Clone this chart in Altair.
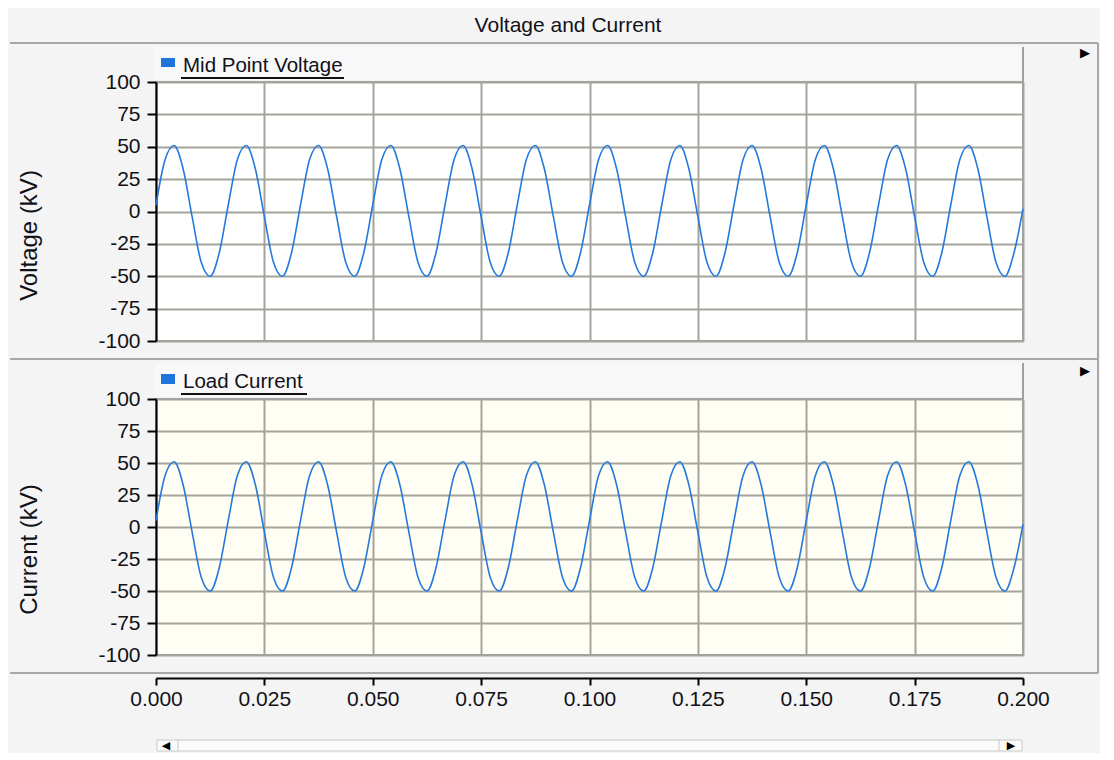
import altair as alt
import pandas as pd

FONT = "Liberation Sans"
TEXT = "#111118"
BG = "#F4F4F4"
GRID = "#A4A49C"
WAVE = "#2479DC"

chart_title = "Voltage and Current"
panel_names = ["Mid Point Voltage", "Load Current"]
axis_titles = ["Voltage (kV)", "Current (kV)"]
x_tick_values = [0.0, 0.025, 0.05, 0.075, 0.1, 0.125, 0.15, 0.175, 0.2]
y_tick_values = [-100, -75, -50, -25, 0, 25, 50, 75, 100]

# samples, one every 1/8 of a 60 Hz cycle
SAMPLE_STEP = 0.2 / 96
mid_point_voltage = [
    5, 40, 51, 33, -4, -39, -50, -32,
    5, 40, 51, 33, -4, -39, -50, -32,
    5, 40, 51, 33, -4, -39, -50, -32,
    5, 40, 51, 33, -4, -39, -50, -32,
    5, 40, 51, 33, -4, -39, -50, -32,
    5, 40, 51, 33, -4, -39, -50, -32,
    5, 40, 51, 33, -4, -39, -50, -32,
    5, 40, 51, 33, -4, -39, -50, -32,
    5, 40, 51, 33, -4, -39, -50, -32,
    5, 40, 51, 33, -4, -39, -50, -32,
    5, 40, 51, 33, -4, -39, -50, -32,
    5, 40, 51, 33, -4, -39, -50, -32,
    2,
]
load_current = [
    5, 40, 51, 33, -4, -39, -50, -32,
    5, 40, 51, 33, -4, -39, -50, -32,
    5, 40, 51, 33, -4, -39, -50, -32,
    5, 40, 51, 33, -4, -39, -50, -32,
    5, 40, 51, 33, -4, -39, -50, -32,
    5, 40, 51, 33, -4, -39, -50, -32,
    5, 40, 51, 33, -4, -39, -50, -32,
    5, 40, 51, 33, -4, -39, -50, -32,
    5, 40, 51, 33, -4, -39, -50, -32,
    5, 40, 51, 33, -4, -39, -50, -32,
    5, 40, 51, 33, -4, -39, -50, -32,
    5, 40, 51, 33, -4, -39, -50, -32,
    2,
]
times = [round(i * SAMPLE_STEP, 6) for i in range(len(mid_point_voltage))]

W = 867
H1 = 259
H2 = 256

one = alt.Data(values=[{"k": 1}])


def d_rect(x, x2, y, y2, fill, stroke=None, sw=1):
    if stroke is None:
        m = alt.Chart(one).mark_rect(fill=fill, strokeWidth=0)
    else:
        m = alt.Chart(one).mark_rect(fill=fill, stroke=stroke, strokeWidth=sw)
    return m.encode(x=alt.value(x), x2=alt.value(x2), y=alt.value(y), y2=alt.value(y2))


def d_rule(x, x2, y, y2, color, width):
    return alt.Chart(one).mark_rule(color=color, strokeWidth=width).encode(
        x=alt.value(x), x2=alt.value(x2), y=alt.value(y), y2=alt.value(y2))


def d_text(txt, x, y, size, align="left", baseline="alphabetic", font=FONT, color=TEXT):
    return alt.Chart(one).mark_text(
        text=txt, font=font, fontSize=size, align=align, baseline=baseline, color=color
    ).encode(x=alt.value(x), y=alt.value(y))


def wave(values, ytitle, title_y, bottom):
    df = pd.DataFrame({"t": times, "v": values})
    if bottom:
        xax = alt.Axis(values=x_tick_values, format=".3f", grid=True, gridColor=GRID, gridWidth=2,
                       title=None, offset=23, domainColor="#000", domainWidth=2,
                       tickColor="#000", tickWidth=2, tickSize=7, labelFont=FONT,
                       labelFontSize=21, labelColor=TEXT, labelPadding=3, labelFlush=False)
    else:
        xax = alt.Axis(values=x_tick_values, grid=True, gridColor=GRID, gridWidth=2, title=None,
                       labels=False, ticks=False, domain=False)
    yax = alt.Axis(values=y_tick_values, grid=True, gridColor=GRID, gridWidth=2,
                   domainColor="#000", domainWidth=2, tickColor="#000", tickWidth=2, tickSize=9,
                   labelFont=FONT, labelFontSize=21, labelColor=TEXT, labelPadding=7,
                   labelExpr="datum.value < 0 ? '-' + abs(datum.value) : '' + datum.value",
                   labelFlush=False, title=ytitle, titleFont=FONT, titleFontSize=24,
                   titleFontWeight="normal", titleColor=TEXT, titleX=-127, titleY=title_y,
                   titleAngle=270, titleAlign="center", titleBaseline="middle")
    return alt.Chart(df).mark_line(color=WAVE, strokeWidth=1.6, interpolate="monotone").encode(
        x=alt.X("t:Q", scale=alt.Scale(domain=[0, 0.2], nice=False, zero=False), axis=xax),
        y=alt.Y("v:Q", scale=alt.Scale(domain=[-100, 100], nice=False), axis=yax),
    )


top = alt.layer(
    d_rect(-146, 942, -73, -39, BG),
    d_rule(-146, 942, -39, -39, "#A8A8A8", 2),
    d_text(chart_title, 412, -56, 21, align="center", baseline="middle"),
    d_rect(-1, 868, -35, -2, "#F8F8F8"),
    d_rule(867, 867, -35, 0, "#A0A0A0", 2),
    d_rect(5, 19, -24, -15, "#1E73DC"),
    d_text(panel_names[0], 27, -10, 20.5),
    d_rule(25, 188, -4, -4, "#111111", 2),
    d_text("▶", 929, -29, 13, align="center", baseline="middle", font="DejaVu Sans", color="#000"),
    d_rule(942, 942, -39, 591, "#A8A8A8", 2),
    wave(mid_point_voltage, axis_titles[0], 153, False),
).properties(width=W, height=H1, view=alt.ViewBackground(fill="#FFFFFF", stroke="#A0A0A0", strokeWidth=2))

bottom = alt.layer(
    d_rule(-146, 942, -40, -40, "#A8A8A8", 2),
    d_rect(-1, 868, -36, -2, "#F8F8F8"),
    d_rule(867, 867, -36, 0, "#A0A0A0", 2),
    d_rect(5, 19, -25, -15, "#1E73DC"),
    d_text(panel_names[1], 27, -11, 20.5),
    d_rule(25, 151, -5, -5, "#111111", 2),
    d_text("▶", 929, -28, 13, align="center", baseline="middle", font="DejaVu Sans", color="#000"),
    d_rule(-146, 942, 274, 274, "#A8A8A8", 2),
    d_rect(1, 866, 341, 352, "#FBFBFB", stroke="#C8C8C8", sw=1),
    d_rule(22, 22, 341, 352, "#C8C8C8", 1),
    d_rule(843, 843, 341, 352, "#C8C8C8", 1),
    d_text("◀", 10, 347, 11, align="center", baseline="middle", font="DejaVu Sans", color="#000"),
    d_text("▶", 855, 347, 11, align="center", baseline="middle", font="DejaVu Sans", color="#000"),
    wave(load_current, axis_titles[1], 150, True),
).properties(width=W, height=H2, view=alt.ViewBackground(fill="#FFFEF4", stroke="#A0A0A0", strokeWidth=2))

chart = alt.vconcat(top, bottom, spacing=58, bounds="flush").properties(
    padding=0, background=BG
).configure(font=FONT)

chart.save("out.html", embed_options={"renderer": "svg", "actions": False})
